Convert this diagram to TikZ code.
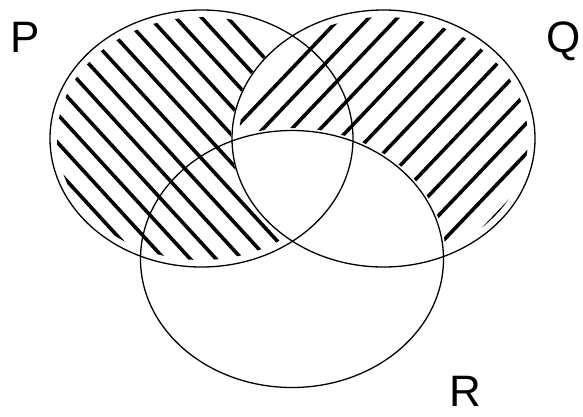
\documentclass[tikz,border=0pt]{standalone}
\usepackage{fontspec}
\setmainfont{Liberation Sans}
\begin{document}
\begin{tikzpicture}[x=1pt,y=-1pt,
  outline/.style={line width=1.3pt},
  hatch/.style={line width=3.6pt},
  lbl/.style={font=\fontsize{44}{50}\selectfont, inner sep=0pt, anchor=base}]
\useasboundingbox[fill=white] (0,0) rectangle (583,416);
\coordinate (cP) at (201.5,138.5);
\coordinate (cQ) at (383.5,138.5);
\coordinate (cR) at (292,259);
% hatching of P outside Q
\begin{scope}
  \clip (cP) ellipse [x radius=144.5pt, y radius=121.5pt];
  \clip (-1000,-1000) -- (1000,-1000) -- (1000,1000) -- (-1000,1000) -- cycle
        (cQ) ellipse [x radius=152.5pt, y radius=129.5pt];
  \foreach \k in {0,...,12}{
    \pgfmathsetmacro\b{108-28.2*\k}
    \draw[hatch] (0,\b) -- (583,{635.5+\b});
  }
\end{scope}
% hatching of Q outside R
\begin{scope}
  \clip (cQ) ellipse [x radius=144.5pt, y radius=121.5pt];
  \clip (-1000,-1000) -- (1000,-1000) -- (1000,1000) -- (-1000,1000) -- cycle
        (cR) ellipse [x radius=154pt, y radius=131pt];
  \foreach \k in {0,...,12}{
    \pgfmathsetmacro\b{375+30.1*\k}
    \draw[hatch] (0,\b) -- (583,{\b-612.15});
  }
\end{scope}
% outlines
\draw[outline] (cP) ellipse [x radius=151.5pt, y radius=128.5pt];
\draw[outline] (cQ) ellipse [x radius=151.5pt, y radius=128.5pt];
\draw[outline] (cR) ellipse [x radius=151.5pt, y radius=128.5pt];
% labels
\node[lbl] (labP) at (25,52) {P};
\node[lbl] (labQ) at (564,52) {Q};
\node[lbl] (labR) at (465,406) {R};
\end{tikzpicture}
\end{document}
